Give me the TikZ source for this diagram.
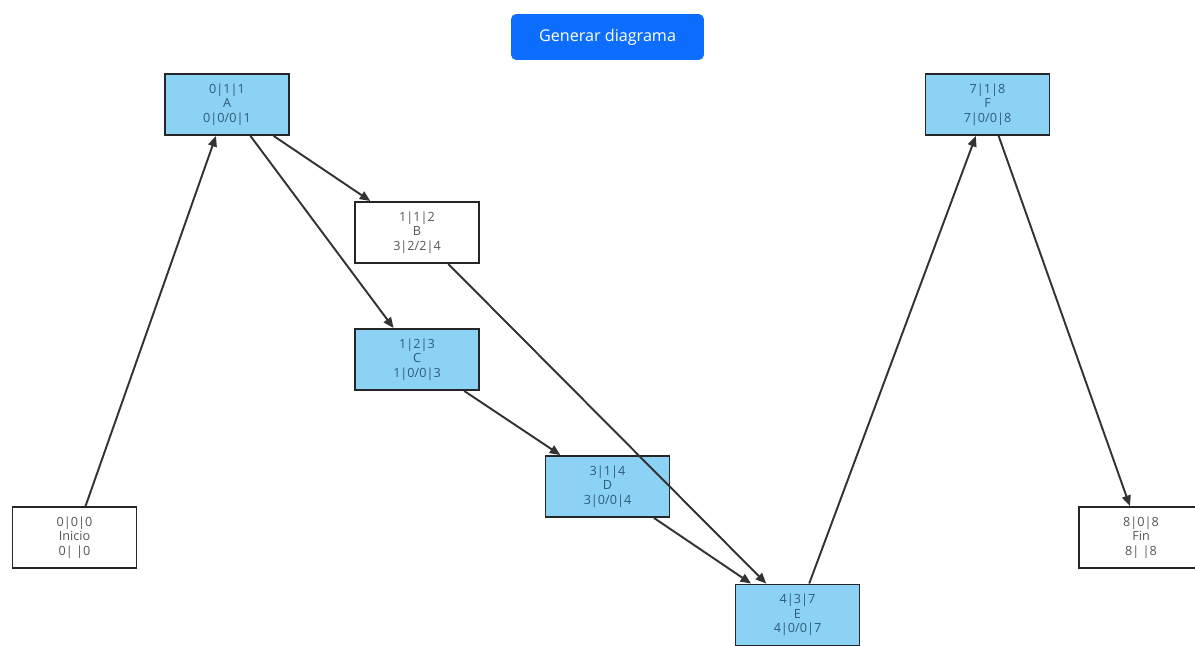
\documentclass[tikz,border=0pt]{standalone}
\usepackage{fontspec}
\setmainfont{Open Sans}
\usetikzlibrary{arrows.meta}
\definecolor{critfill}{HTML}{8CD2F5}
\definecolor{crittext}{HTML}{2F5A78}
\definecolor{plaintext}{HTML}{555555}
\definecolor{btnblue}{HTML}{0D6EFD}
\definecolor{linkgray}{HTML}{333333}

\begin{document}
\begin{tikzpicture}[x=0.02cm,y=-0.02cm,
  act/.style={draw=black!85,line width=1.1pt,fill=white,text=plaintext,
    minimum width=2.48cm,minimum height=1.22cm,inner sep=0pt,align=center,
    font=\fontsize{7.2}{8.3}\selectfont},
  crit/.style={act,fill=critfill,text=crittext},
  link/.style={draw=linkgray,line width=1.1pt,-{Triangle[length=6pt,width=5pt]}}]
\fill[white] (0,0) rectangle (1195,645);
\clip (0,0) rectangle (1195,645);
% boton
\node[fill=btnblue,text=white,rounded corners=3pt,minimum width=3.86cm,
  minimum height=0.92cm,font=\fontsize{9.2}{11}\selectfont] (boton) at (607.5,37) {Generar diagrama};
% actividades
\node[act] (inicio) at (74.5,537.5) {0|0|0\\Inicio\\0| |0};
\node[crit] (a) at (227,104.5) {0|1|1\\A\\0|0/0|1};
\node[act] (b) at (417,232.5) {1|1|2\\B\\3|2/2|4};
\node[crit] (c) at (417,359.5) {1|2|3\\C\\1|0/0|3};
\node[crit] (d) at (607.5,486.5) {3|1|4\\D\\3|0/0|4};
\node[crit] (e) at (797.5,615) {4|3|7\\E\\4|0/0|7};
\node[crit] (f) at (987.5,104.5) {7|1|8\\F\\7|0/0|8};
\node[act] (fin) at (1141,537.5) {8|0|8\\Fin\\8| |8};
% precedencias
\draw[link] (inicio) -- (a);
\draw[link] (a) -- (b);
\draw[link] (a) -- (c);
\draw[link] (b) -- (e);
\draw[link] (c) -- (d);
\draw[link] (d) -- (e);
\draw[link] (e) -- (f);
\draw[link] (f) -- (fin);
\end{tikzpicture}
\end{document}
